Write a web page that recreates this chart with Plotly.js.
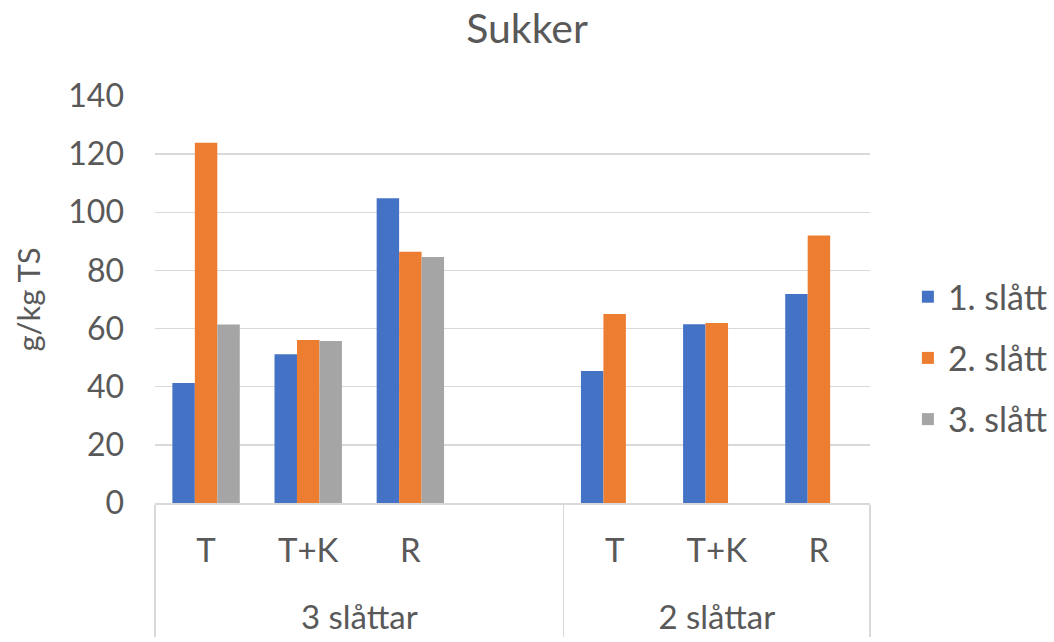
<!DOCTYPE html>
<html>
<head>
<meta charset="utf-8">
<script src="https://cdn.plot.ly/plotly-3.0.1.min.js"></script>
<style>html,body{margin:0;padding:0;background:#fff}#chart{width:1054px;height:642px}</style>
</head>
<body>
<div id="chart"></div>
<script>
const groups = ["<br>3 slåttar","<br>3 slåttar","<br>3 slåttar","<br>3 slåttar","<br>2 slåttar","<br>2 slåttar","<br>2 slåttar"];
const subs = ["T","T+K","R"," ","T","T+K","R"];
const seriesNames = ["1. slått","2. slått","3. slått"];
const slatt1 = [41.3, 51.2, 104.8, null, 45.4, 61.5, 71.9];
const slatt2 = [123.9, 56.1, 86.4, null, 65.0, 61.9, 92.0];
const slatt3 = [61.4, 55.7, 84.6, null, null, null, null];
const colors = ["#4472C4","#ED7D31","#A5A5A5"];

const font = "Lato, 'Open Sans', sans-serif";
const txt = "#595959";
const values = [slatt1, slatt2, slatt3];
const traces = values.map((v,i)=>({
  type:"bar", x:[groups, subs], y:v, name:seriesNames[i],
  marker:{color:colors[i]}, legendgroup:"g"+i, hoverinfo:"y"
}));

const layout = {
  width:1054, height:642,
  margin:{l:155, r:184, t:96, b:139, autoexpand:false},
  paper_bgcolor:"#fff", plot_bgcolor:"#fff",
  title:{text:"Sukker", font:{family:font, size:41, color:txt}, x:0.5, xanchor:"center", y:0.955, yanchor:"middle"},
  barmode:"group", bargap:0.34, bargroupgap:0,
  font:{family:font, color:txt, size:31},
  xaxis:{type:"multicategory", showline:true, linecolor:"#D9D9D9", linewidth:1.5,
    showdividers:true, dividercolor:"#D9D9D9", dividerwidth:1.5, ticklabelstandoff:18,
    tickfont:{family:font, size:33, color:txt}, showgrid:false, zeroline:false, automargin:false},
  yaxis:{range:[0,140], dtick:20, showgrid:true, gridcolor:"#D9D9D9", gridwidth:1.5,
    zeroline:false, showline:false, ticklabelstandoff:30, automargin:false,
    tickfont:{family:font, size:32, color:txt},
    title:{text:"g/kg TS", font:{family:font, size:31, color:txt}, standoff:18}},
  legend:{x:1.053, xanchor:"left", y:0.356, yanchor:"middle", traceorder:"grouped", tracegroupgap:14,
    font:{family:font, size:34, color:txt}, bgcolor:"rgba(0,0,0,0)"},
  showlegend:true
};
Plotly.newPlot("chart", traces, layout, {displayModeBar:false, staticPlot:true});
</script>
</body>
</html>
